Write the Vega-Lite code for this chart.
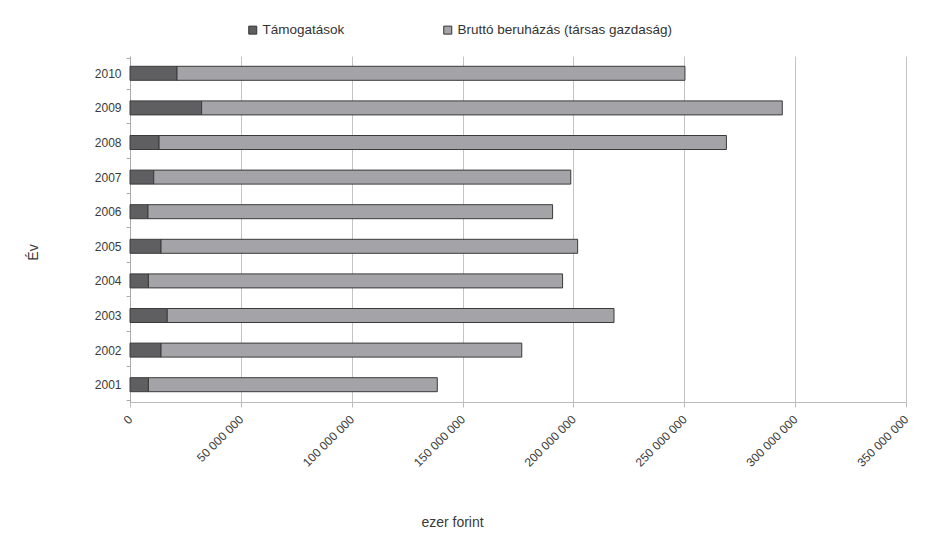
{
  "$schema": "https://vega.github.io/schema/vega-lite/v6.json",
  "width": 776,
  "height": 346,
  "autosize": {"type": "none"},
  "padding": {"left": 130, "top": 56, "right": 27, "bottom": 141},
  "background": "white",
  "config": {
    "font": "Liberation Sans",
    "locale": {"number": {"decimal": ",", "thousands": " ", "grouping": [3], "currency": ["", " Ft"]}},
    "view": {"stroke": null},
    "axis": {"labelFont": "Liberation Sans", "titleFont": "Liberation Sans", "labelColor": "#3a3a3a", "titleColor": "#3a3a3a", "labelFontSize": 12, "titleFontSize": 14, "titleFontWeight": "normal"},
    "legend": {"labelFont": "Liberation Sans", "labelFontSize": 13.5, "labelColor": "#333"}
  },
  "data": {
    "values": [
      {"ev": "2010", "sorozat": "Támogatások", "ertek": 21200000},
      {"ev": "2010", "sorozat": "Bruttó beruházás (társas gazdaság)", "ertek": 229100000},
      {"ev": "2009", "sorozat": "Támogatások", "ertek": 32300000},
      {"ev": "2009", "sorozat": "Bruttó beruházás (társas gazdaság)", "ertek": 261900000},
      {"ev": "2008", "sorozat": "Támogatások", "ertek": 13100000},
      {"ev": "2008", "sorozat": "Bruttó beruházás (társas gazdaság)", "ertek": 255900000},
      {"ev": "2007", "sorozat": "Támogatások", "ertek": 10700000},
      {"ev": "2007", "sorozat": "Bruttó beruházás (társas gazdaság)", "ertek": 188100000},
      {"ev": "2006", "sorozat": "Támogatások", "ertek": 8100000},
      {"ev": "2006", "sorozat": "Bruttó beruházás (társas gazdaság)", "ertek": 182500000},
      {"ev": "2005", "sorozat": "Támogatások", "ertek": 14000000},
      {"ev": "2005", "sorozat": "Bruttó beruházás (társas gazdaság)", "ertek": 187900000},
      {"ev": "2004", "sorozat": "Támogatások", "ertek": 8300000},
      {"ev": "2004", "sorozat": "Bruttó beruházás (társas gazdaság)", "ertek": 186800000},
      {"ev": "2003", "sorozat": "Támogatások", "ertek": 16800000},
      {"ev": "2003", "sorozat": "Bruttó beruházás (társas gazdaság)", "ertek": 201500000},
      {"ev": "2002", "sorozat": "Támogatások", "ertek": 14000000},
      {"ev": "2002", "sorozat": "Bruttó beruházás (társas gazdaság)", "ertek": 162700000},
      {"ev": "2001", "sorozat": "Támogatások", "ertek": 8300000},
      {"ev": "2001", "sorozat": "Bruttó beruházás (társas gazdaság)", "ertek": 130300000}
    ]
  },
  "mark": {"type": "bar", "size": 14, "stroke": "#3a3a3a", "strokeWidth": 1},
  "encoding": {
    "y": {
      "field": "ev", "type": "nominal", "sort": "descending",
      "axis": {"title": "Év", "titleAngle": -90, "titleX": -97, "titleY": 196, "titleAlign": "center", "titleBaseline": "middle",
        "tickBand": "extent", "tickSize": 4, "labelPadding": 5, "domainColor": "#aaa", "tickColor": "#aaa", "grid": false}
    },
    "x": {
      "field": "ertek", "type": "quantitative", "stack": "zero",
      "scale": {"domain": [0, 350000000], "nice": false},
      "axis": {"title": "ezer forint", "values": [0, 50000000, 100000000, 150000000, 200000000, 250000000, 300000000, 350000000],
        "format": ",d", "labelAngle": -45, "labelAlign": "right", "labelBaseline": "middle", "labelPadding": 10,
        "tickSize": 5, "domainColor": "#bbb", "tickColor": "#bbb", "gridColor": "#c4c4c4", "grid": true,
        "titleX": 322, "titleY": 113, "titleAnchor": null, "titleAlign": "center", "titleBaseline": "top"}
    },
    "color": {
      "field": "sorozat", "type": "nominal",
      "scale": {"domain": ["Támogatások", "Bruttó beruházás (társas gazdaság)"], "range": ["#5f5f61", "#a4a4a8"]},
      "legend": {"title": null, "orient": "none", "legendX": 116, "legendY": -33, "direction": "horizontal",
        "symbolType": "square", "symbolSize": 64, "symbolStrokeColor": "#333", "symbolStrokeWidth": 1, "symbolOpacity": 1,
        "labelOffset": 3, "labelLimit": 400, "columnPadding": 96}
    },
    "order": {"field": "sorozat", "sort": "descending"}
  }
}
